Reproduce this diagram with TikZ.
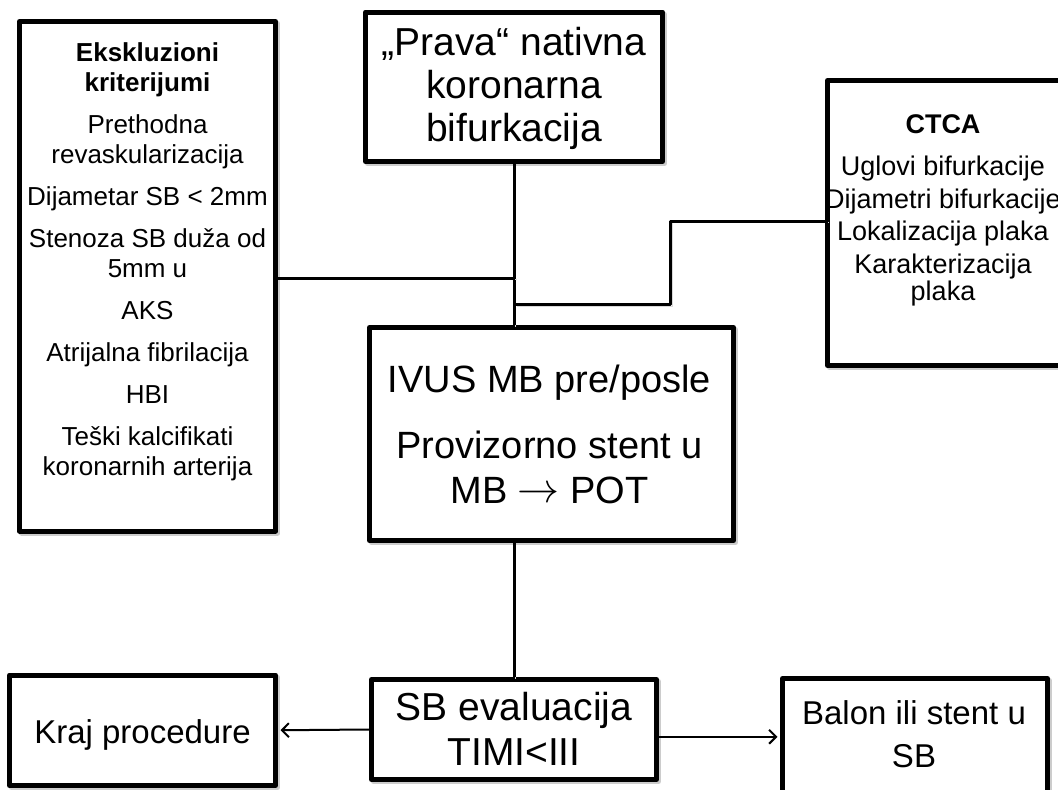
\documentclass[tikz,border=0pt]{standalone}
\usepackage{fontspec}
\usepackage{graphicx}
\setmainfont{Liberation Sans}
\usetikzlibrary{arrows.meta}
\begin{document}
\begin{tikzpicture}[x=1pt,y=-1pt,
  box/.style={draw, line width=5pt, fill=white, line join=round, inner sep=0pt, anchor=center,
     preaction={draw=black!20, line width=5pt, transform canvas={shift={(2pt,-2pt)}}}},
  txt/.style={align=center, inner sep=0pt, anchor=center},
  conn/.style={line width=3pt,
     preaction={draw=black!15, transform canvas={shift={(1.5pt,-1.5pt)}}}},
  arr/.style={line width=2pt, -{Straight Barb[length=7pt,width=14pt,line width=2pt]}, shorten >=2.5pt}
]
\useasboundingbox (0,0) rectangle (1058,790);
\fill[white] (0,0) rectangle (1058,790);

% boxes
\node[box, minimum width=297pt, minimum height=149.5pt] (top) at (514,86.75) {};
\node[box, minimum width=256pt, minimum height=509.5pt] (excl) at (147.5,276.25) {};
\node[box, minimum width=235.5pt, minimum height=285pt] (ctca) at (945.25,223) {};
\node[box, minimum width=364pt, minimum height=213pt] (mid) at (551.5,434) {};
\node[box, minimum width=266pt, minimum height=110.5pt] (kraj) at (142.5,730.25) {};
\node[box, minimum width=285pt, minimum height=100pt] (sb) at (514,729.5) {};
\node[box, minimum width=265pt, minimum height=116.5pt] (balon) at (915,736.75) {};

% texts
\node[txt, font=\fontsize{39}{43}\selectfont] (toptxt) at (514,88)
  {„Prava“ nativna\\koronarna\\bifurkacija};
\node[txt, font=\fontsize{26}{30}\selectfont] (excltxt) at (147.5,262)
  {\textbf{Ekskluzioni}\\\textbf{kriterijumi}\\[12pt]
   Prethodna\\revaskularizacija\\[12pt]
   Dijametar SB < 2mm\\[12pt]
   Stenoza SB duža od\\5mm u\\[12pt]
   AKS\\[12pt]
   Atrijalna fibrilacija\\[12pt]
   HBI\\[12pt]
   Teški kalcifikati\\koronarnih arterija};
\node[txt, font=\fontsize{27}{27}\selectfont] (ctcatxt) at (943,210)
  {\textbf{CTCA}\\[15pt]
   Uglovi bifurkacije\\[6pt]
   Dijametri bifurkacije\\[5pt]
   Lokalizacija plaka\\[6pt]
   Karakterizacija\\plaka};
\node[txt, font=\fontsize{38}{45}\selectfont] (midtxt) at (549.5,434)
  {IVUS MB pre/posle\\[21pt]Provizorno stent u\\MB \raisebox{1pt}{\resizebox{42pt}{!}{$\rightarrow$}} POT};
\node[txt, font=\fontsize{33}{40}\selectfont] (krajtxt) at (142.5,735) {Kraj procedure};
\node[txt, font=\fontsize{39}{45}\selectfont] (sbtxt) at (514,728.5) {SB evaluacija\\TIMI<III};
\node[txt, font=\fontsize{33}{43}\selectfont] (balontxt) at (914,734.5) {Balon ili stent u\\SB};

% connectors
\coordinate (jl) at (515,278);
\coordinate (jr) at (515,304.3);
\coordinate (cr) at (827.5,221);
\coordinate (b1) at (670.7,221);
\coordinate (b2) at (670.7,304.3);
\draw[conn] (top.south) -- (top.south |- mid.north);
\draw[conn] (jl -| excl.east) -- (jl);
\draw[conn, line join=round] (cr) -- (b1) -- (b2) -- (jr);
\draw[conn] (top.south |- mid.south) -- (top.south |- sb.north);
\draw[arr] (sb.west) -- (kraj.east);
\draw[arr] (balon.west -| sb.east) -- (balon.west);
\end{tikzpicture}
\end{document}
